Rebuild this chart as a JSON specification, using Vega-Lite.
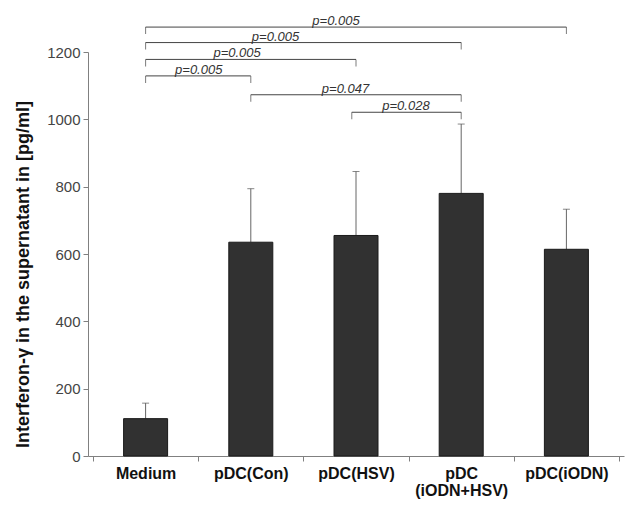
{
  "$schema": "https://vega.github.io/schema/vega-lite/v6.json",
  "width": 536,
  "height": 404,
  "autosize": "none",
  "padding": {"left": 88, "top": 52, "right": 11, "bottom": 53},
  "background": "white",
  "config": {"view": {"stroke": null}, "font": "Liberation Sans"},
  "datasets": {
    "bars": [
      {"idx": 0, "group": "Medium", "mean": 111, "upper": 157},
      {"idx": 1, "group": "pDC(Con)", "mean": 635, "upper": 794},
      {"idx": 2, "group": "pDC(HSV)", "mean": 655, "upper": 845},
      {"idx": 3, "group": "pDC (iODN+HSV)", "mean": 780, "upper": 986},
      {"idx": 4, "group": "pDC(iODN)", "mean": 614, "upper": 733}
    ],
    "brackets": [
      {"x1": 0, "x2": 4, "y": 1274, "lx": 1.81, "label": "p=0.005"},
      {"x1": 0, "x2": 3, "y": 1228, "lx": 1.235, "label": "p=0.005"},
      {"x1": 0, "x2": 2, "y": 1178, "lx": 0.87, "label": "p=0.005"},
      {"x1": 0, "x2": 1, "y": 1129, "lx": 0.505, "label": "p=0.005"},
      {"x1": 1, "x2": 3, "y": 1073, "lx": 1.9, "label": "p=0.047"},
      {"x1": 1.96, "x2": 3, "y": 1021, "lx": 2.475, "label": "p=0.028"}
    ]
  },
  "layer": [
    {
      "data": {"name": "bars"},
      "mark": {"type": "rule", "color": "#666666", "strokeWidth": 1},
      "encoding": {
        "x": {
          "field": "idx",
          "type": "quantitative",
          "scale": {"domain": [-0.5, 4.5], "nice": false, "zero": false},
          "axis": {
            "values": [-0.5, 0, 0.5, 1, 1.5, 2, 2.5, 3, 3.5, 4, 4.5],
            "labelExpr": "datum.value === 0 ? 'Medium' : datum.value === 1 ? 'pDC(Con)' : datum.value === 2 ? 'pDC(HSV)' : datum.value === 3 ? ['pDC', '(iODN+HSV)'] : datum.value === 4 ? 'pDC(iODN)' : ''",
            "labelFont": "Liberation Sans",
            "labelFontSize": 16,
            "labelFontWeight": "bold",
            "labelColor": "#111111",
            "labelLineHeight": 17,
            "labelOverlap": false,
            "labelFlush": false,
            "labelBound": false,
            "labelPadding": 4,
            "tickSize": 5,
            "tickColor": "#808080",
            "tickOpacity": {"condition": {"test": "datum.value % 1 === 0", "value": 0}, "value": 1},
            "domainColor": "#808080",
            "grid": false,
            "title": null
          }
        },
        "y": {
          "field": "mean",
          "type": "quantitative",
          "scale": {"domain": [0, 1200], "nice": false},
          "axis": {
            "values": [0, 200, 400, 600, 800, 1000, 1200],
            "format": "d",
            "labelFont": "Liberation Sans",
            "labelFontSize": 15,
            "labelColor": "#444444",
            "labelPadding": 3,
            "tickSize": 5,
            "tickColor": "#808080",
            "domainColor": "#808080",
            "grid": false,
            "title": "Interferon-γ in the supernatant in [pg/ml]",
            "titleFont": "Liberation Sans",
            "titleFontSize": 18,
            "titleFontWeight": "bold",
            "titleColor": "#111111",
            "titleAngle": 270,
            "titleX": -60,
            "titleY": 222,
            "titleAlign": "center",
            "titleBaseline": "alphabetic"
          }
        },
        "y2": {"field": "upper"}
      }
    },
    {
      "data": {"name": "bars"},
      "mark": {"type": "tick", "orient": "horizontal", "size": 7, "thickness": 1, "color": "#555555"},
      "encoding": {
        "x": {"field": "idx", "type": "quantitative"},
        "y": {"field": "upper", "type": "quantitative"}
      }
    },
    {
      "data": {"name": "bars"},
      "mark": {"type": "bar", "width": 44, "fill": "#313131", "stroke": "#1a1a1a", "strokeWidth": 1},
      "encoding": {
        "x": {"field": "idx", "type": "quantitative"},
        "y": {"field": "mean", "type": "quantitative"}
      }
    },
    {
      "data": {"name": "brackets"},
      "mark": {"type": "rule", "color": "#444444", "strokeWidth": 1},
      "encoding": {
        "x": {"field": "x1", "type": "quantitative"},
        "x2": {"field": "x2"},
        "y": {"field": "y", "type": "quantitative"}
      }
    },
    {
      "data": {"name": "brackets"},
      "mark": {"type": "tick", "orient": "vertical", "size": 7, "thickness": 1, "yOffset": 3.5, "color": "#444444"},
      "encoding": {
        "x": {"field": "x1", "type": "quantitative"},
        "y": {"field": "y", "type": "quantitative"}
      }
    },
    {
      "data": {"name": "brackets"},
      "mark": {"type": "tick", "orient": "vertical", "size": 7, "thickness": 1, "yOffset": 3.5, "color": "#444444"},
      "encoding": {
        "x": {"field": "x2", "type": "quantitative"},
        "y": {"field": "y", "type": "quantitative"}
      }
    },
    {
      "data": {"name": "brackets"},
      "mark": {"type": "text", "font": "Liberation Sans", "fontSize": 13, "fontStyle": "italic", "color": "#333333", "baseline": "alphabetic", "align": "center", "dy": -2},
      "encoding": {
        "x": {"field": "lx", "type": "quantitative"},
        "y": {"field": "y", "type": "quantitative"},
        "text": {"field": "label"}
      }
    }
  ]
}
